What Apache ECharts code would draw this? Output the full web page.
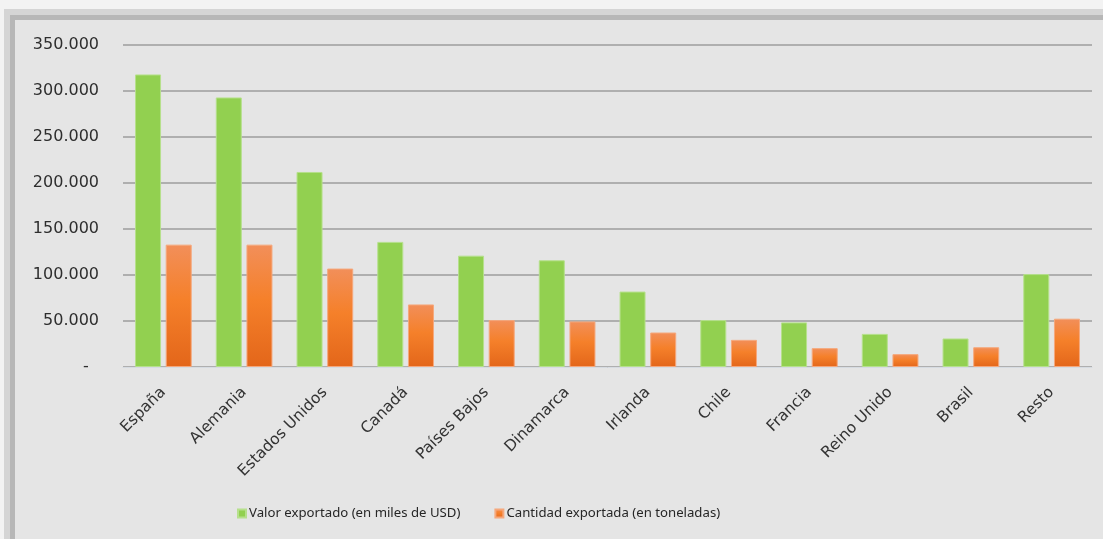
<!DOCTYPE html>
<html>
<head>
<meta charset="utf-8">
<title>Exportaciones por destino</title>
<script src="https://cdn.jsdelivr.net/npm/echarts@6/dist/echarts.min.js"></script>
<style>
  html, body { margin: 0; padding: 0; background: #f3f3f3; }
  #frame {
    position: absolute; left: 4px; top: 9px; right: 0; bottom: 0;
    background: #e5e5e5;
    border-left: 6px solid #d5d5d5; border-top: 6px solid #d5d5d5;
    box-shadow: inset 5px 5px 0 #b7b7b7;
  }
  #chart { position: absolute; left: 0; top: 0; width: 1103px; height: 539px; }
</style>
</head>
<body>
<div id="frame"></div>
<div id="chart"></div>
<script>
// destinos
const paises = ['España', 'Alemania', 'Estados Unidos', 'Canadá', 'Países Bajos', 'Dinamarca',
  'Irlanda', 'Chile', 'Francia', 'Reino Unido', 'Brasil', 'Resto']
// miles de USD
const valorExportado = [318000, 293000, 212000, 136000, 121000, 116000, 82000, 51000, 48500, 36000, 31000, 101000]
// toneladas
const cantidadExportada = [133000, 133000, 107000, 68000, 51000, 49500, 37500, 29500, 20500, 14000, 21500, 52500]
const ejeY = [0, 50000, 100000, 150000, 200000, 250000, 300000, 350000]

function miles(v) {
  if (v === 0) return '-  '
  return String(v).replace(/\B(?=(\d{3})+(?!\d))/g, '.')
}

const chart = echarts.init(document.getElementById('chart'))

chart.setOption({
  backgroundColor: 'transparent',
  animation: false,
  grid: { left: 123, right: 11, top: 45, bottom: 172 },
  legend: {
    left: 232, top: 502,
    itemWidth: 8, itemHeight: 8, itemGap: 34,
    icon: 'rect',
    textStyle: { fontFamily: 'Noto Sans', fontSize: 13.2, color: '#262626', padding: [0, 0, 0, -2] },
  },
  xAxis: {
    type: 'category',
    data: paises,
    axisLine: { lineStyle: { color: '#d6dbe1', width: 1 } },
    axisTick: { show: false },
    axisLabel: { rotate: 45, margin: 23, fontFamily: 'DejaVu Sans', fontSize: 15.5, color: '#333' },
  },
  yAxis: {
    type: 'value',
    min: ejeY[0], max: ejeY[ejeY.length - 1], interval: 50000,
    axisLine: { show: false },
    axisTick: { show: false },
    splitLine: { lineStyle: { color: '#9c9c9c', width: 1.6 } },
    axisLabel: { margin: 24, fontFamily: 'DejaVu Sans', fontSize: 16, color: '#2e2e2e', formatter: miles },
  },
  series: [
    {
      name: 'Valor exportado (en miles de USD)',
      type: 'bar',
      data: valorExportado,
      barWidth: 26,
      barGap: '18%',
      itemStyle: { color: '#92d050', borderColor: '#b6e08c', borderWidth: 1 },
    },
    {
      name: 'Cantidad exportada (en toneladas)',
      type: 'bar',
      data: cantidadExportada,
      barWidth: 26,
      itemStyle: {
        color: new echarts.graphic.LinearGradient(0, 0, 0, 1, [
          { offset: 0, color: '#f28f5a' },
          { offset: 0.45, color: '#f5802a' },
          { offset: 1, color: '#e3661a' },
        ]),
        borderColor: '#f5a87c', borderWidth: 1,
      },
    },
  ],
})

window.addEventListener('resize', () => chart.resize())
</script>
</body>
</html>
